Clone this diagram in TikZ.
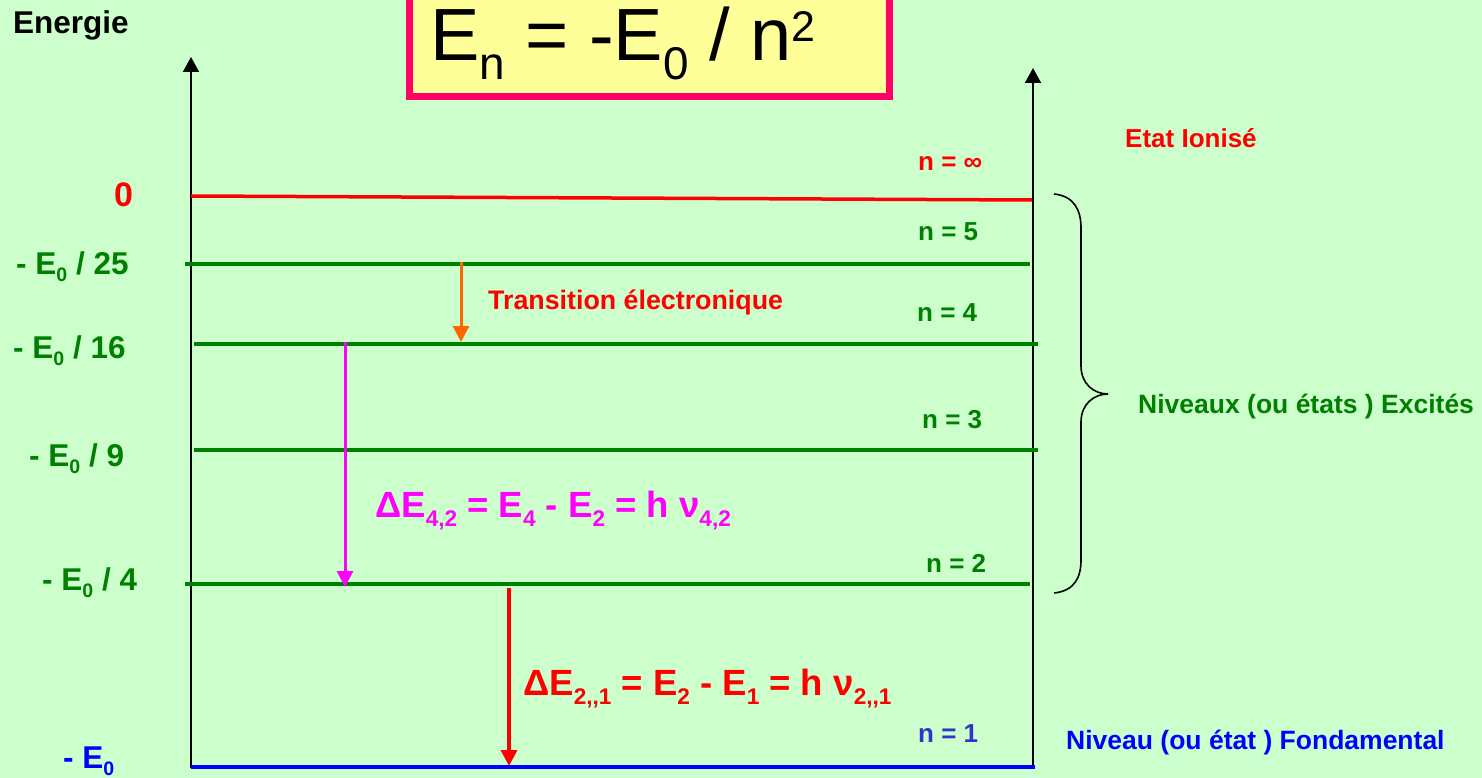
\documentclass[tikz,border=0pt]{standalone}
\usepackage{fontspec}
\setmainfont{Liberation Sans}
\usetikzlibrary{arrows.meta}
\definecolor{bggreen}{HTML}{CCFFCC}
\definecolor{lvlgreen}{HTML}{008000}
\definecolor{boxyellow}{HTML}{FFFF99}
\definecolor{boxborder}{HTML}{FF0066}
\definecolor{trorange}{HTML}{FF6600}
\definecolor{pmag}{HTML}{FF00FF}
\definecolor{pred}{HTML}{FF0000}
\definecolor{pblue}{HTML}{0000FF}
\definecolor{nblue}{HTML}{3333CC}
\newcommand\dn[1]{\raisebox{-0.25em}{\scalebox{0.62}{#1}}}
\newcommand\upx[1]{\raisebox{0.26em}{\scalebox{0.58}{#1}}}
\newcommand\fs[1]{\fontsize{#1}{#1}\selectfont}
\tikzset{
  txt/.style={anchor=base west, inner sep=0pt, font=\bfseries},
  lvl/.style={line width=4pt, lvlgreen},
  axis/.style={line width=2pt, black, -{Triangle[width=16pt,length=15pt]}},
  trans/.style={line width=3pt, -{Triangle[width=16pt,length=16pt]}},
  nlab/.style={txt, font=\bfseries\fs{26}},
  elab/.style={txt, font=\bfseries\fs{31.5}, lvlgreen},
}
\begin{document}
\begin{tikzpicture}[x=1pt,y=-1pt]
\clip (0,0) rectangle (1482,778);
\fill[bggreen] (0,0) rectangle (1482,778);
% formula box
\draw[line width=7pt, boxborder, fill=boxyellow] (409,-10) rectangle (889,97);
\node[txt, font=\fs{74}] (formula) at (430,61) {E\dn{n} = -E\dn{0} / n\upx{2}};
\node[txt, font=\bfseries\fs{31.5}] (energie) at (13,34) {Energie};
% axes
\coordinate (axL0) at (191,768); \coordinate (axL1) at (191,57);
\coordinate (axR0) at (1033,767); \coordinate (axR1) at (1033,68);
\draw[axis] (axL0) -- (axL1);
\draw[axis] (axR0) -- (axR1);
% levels
\coordinate (l0a) at (191,196); \coordinate (l0b) at (1032,200);
\coordinate (l5a) at (185,264); \coordinate (l5b) at (1030,264);
\coordinate (l4a) at (194,344); \coordinate (l4b) at (1038,344);
\coordinate (l3a) at (194,450); \coordinate (l3b) at (1038,450);
\coordinate (l2a) at (185,584); \coordinate (l2b) at (1030,584);
\coordinate (l1a) at (191,767); \coordinate (l1b) at (1035,767);
\draw[line width=3.5pt, pred] (l0a) -- (l0b);
\draw[lvl] (l5a) -- (l5b);
\draw[lvl] (l4a) -- (l4b);
\draw[lvl] (l3a) -- (l3b);
\draw[lvl] (l2a) -- (l2b);
\draw[line width=4pt, pblue] (l1a) -- (l1b);
% left labels
\node[txt, font=\bfseries\fs{34}, pred] (z0) at (114,207) {0};
\node[elab] (e25) at (16,274) {- E\dn{0} / 25};
\node[elab] (e16) at (13,358) {- E\dn{0} / 16};
\node[elab] (e9) at (29,466) {- E\dn{0} / 9};
\node[elab] (e4) at (42,590) {- E\dn{0} / 4};
\node[elab, pblue] (e1) at (63,768) {- E\dn{0}};
% n labels
\node[nlab, pred] (ninf) at (918,171) {n = ∞};
\node[nlab, lvlgreen] (n5) at (918,240) {n = 5};
\node[nlab, lvlgreen] (n4) at (917,321) {n = 4};
\node[nlab, lvlgreen] (n3) at (922,428) {n = 3};
\node[nlab, lvlgreen] (n2) at (926,572) {n = 2};
\node[nlab, nblue] (n1) at (918,742) {n = 1};
% transitions
\coordinate (a1) at (461,262); \coordinate (a2) at (461,342);
\coordinate (b1) at (345,342); \coordinate (b2) at (345,587);
\coordinate (c1) at (509,588); \coordinate (c2) at (509,766);
\draw[trans, trorange] (a1) -- (a2);
\draw[trans, pmag] (b1) -- (b2);
\draw[trans, pred, line width=3.5pt] (c1) -- (c2);
\node[txt, font=\bfseries\fs{26.8}, pred] (trtxt) at (488,309) {Transition électronique};
\node[txt, font=\bfseries\fs{36.5}, pmag] (d42) at (375,517) {ΔE\dn{4,2} = E\dn{4} - E\dn{2} = h ν\dn{4,2}};
\node[txt, font=\bfseries\fs{36.5}, pred] (d21) at (523,695) {ΔE\dn{2,{},1} = E\dn{2} - E\dn{1} = h ν\dn{2,{},1}};
% right side
\node[txt, font=\bfseries\fs{26}, pred] (ion) at (1125,148) {Etat Ionisé};
\node[txt, font=\bfseries\fs{26.5}, lvlgreen] (exc) at (1138,413) {Niveaux (ou états ) Excités};
\node[txt, font=\bfseries\fs{26.5}, pblue] (fond) at (1066,749) {Niveau (ou état ) Fondamental};
% brace
\coordinate (brT) at (1054,194); \coordinate (brM) at (1108,394); \coordinate (brB) at (1054,593);
\draw[line width=1.6pt, black] (brT) .. controls (1074,196) and (1081,210) .. (1081,228)
  -- (1081,366) .. controls (1081,384) and (1094,394) .. (brM)
  .. controls (1094,394) and (1081,404) .. (1081,422)
  -- (1081,560) .. controls (1081,578) and (1074,591) .. (brB);
\end{tikzpicture}
\end{document}
